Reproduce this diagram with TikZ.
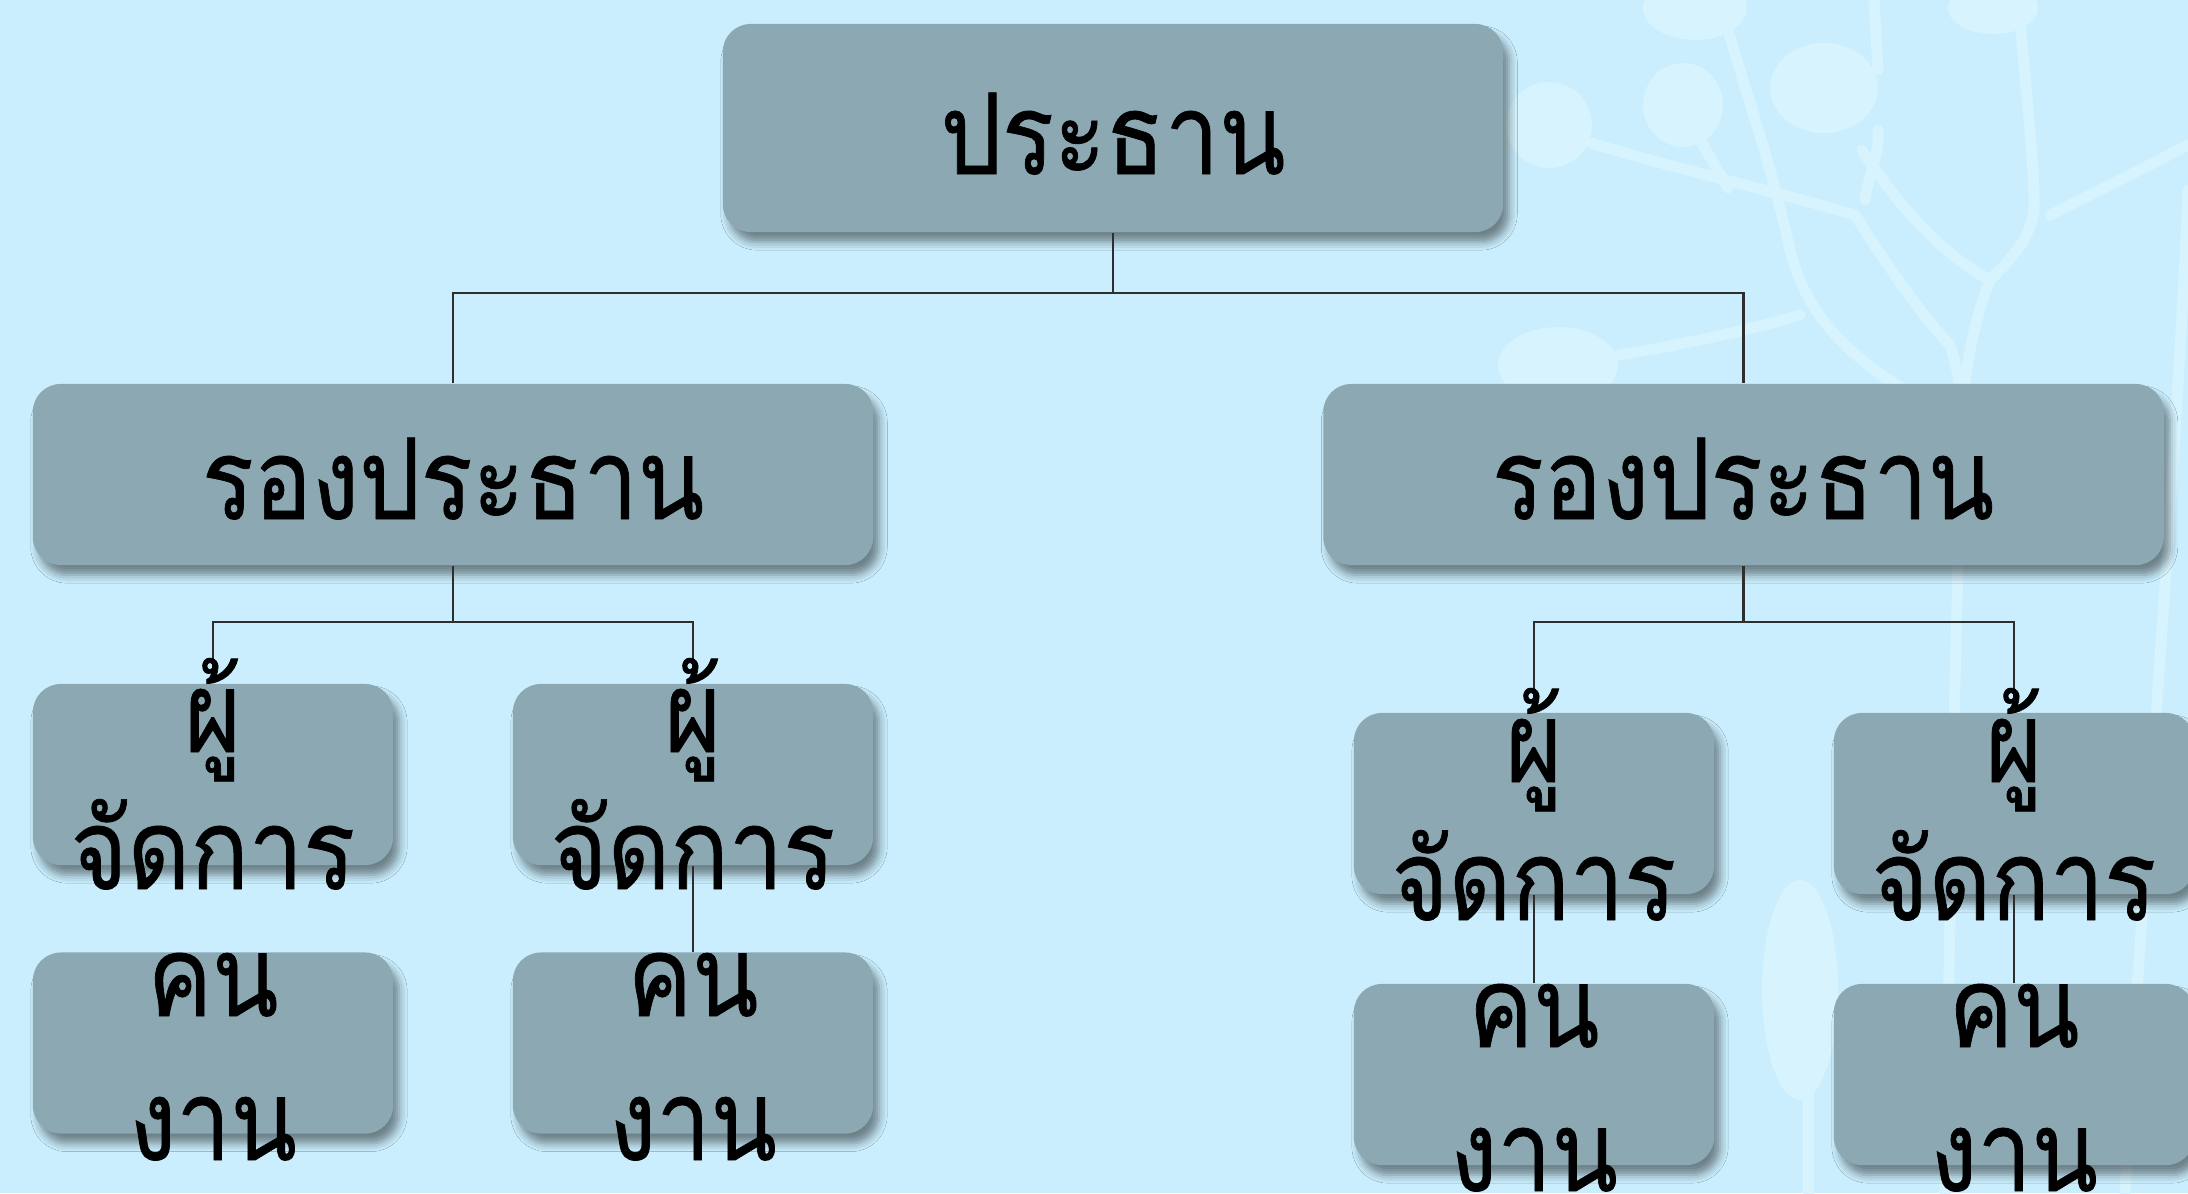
\documentclass[tikz,border=0pt]{standalone}
\usepackage{fontspec}
\newfontfamily\thaifont[Script=Thai,FakeStretch=0.86,FakeBold=0.6]{Loma}
\usetikzlibrary{shadows.blur}
\definecolor{bgblue}{HTML}{CAEEFD}
\definecolor{leafblue}{HTML}{D6F3FE}
\definecolor{boxgray}{HTML}{8BA8B3}
\definecolor{linegray}{HTML}{2E2E2E}

\begin{document}
\begin{tikzpicture}[x=0.01cm, y=-0.01cm,
  orgbox/.style={rectangle, rounded corners=0.28cm, fill=boxgray, draw=none, inner sep=0pt,
    blur shadow={shadow xshift=0.06cm, shadow yshift=-0.10cm,
                 shadow blur radius=0.08cm, shadow opacity=45}},
  bigbox/.style={orgbox, minimum width=8.4cm, minimum height=1.81cm},
  headbox/.style={orgbox, minimum width=7.8cm, minimum height=2.08cm},
  smallbox/.style={orgbox, minimum width=3.6cm, minimum height=1.81cm},
  conn/.style={draw=linegray, line width=0.7pt},
  lbl/.style={font={\thaifont\fontsize{32pt}{40pt}\selectfont}, text=black,
    inner sep=0pt, anchor=base},
  twig/.style={draw=leafblue, line width=0.11cm, line cap=round, line join=round},
  blob/.style={fill=leafblue, draw=none}]

% canvas
\fill[bgblue] (0,0) rectangle (2188,1193);
\useasboundingbox (0,0) rectangle (2188,1193);

% pale branches in the background
\path[blob] (1549,125) ellipse [x radius=0.43cm, y radius=0.43cm];
\path[blob] (1683,105) ellipse [x radius=0.40cm, y radius=0.42cm];
\path[blob] (1695,8) ellipse [x radius=0.52cm, y radius=0.32cm];
\path[blob] (1824,88) ellipse [x radius=0.54cm, y radius=0.45cm];
\path[blob] (1993,8) ellipse [x radius=0.45cm, y radius=0.26cm];
\path[blob] (1558,365) ellipse [x radius=0.60cm, y radius=0.38cm];
\path[blob] (1800,990) ellipse [x radius=0.38cm, y radius=1.10cm];
\draw[twig] (1591,143) .. controls (1680,170) and (1790,195) .. (1855,215)
            .. controls (1890,270) and (1925,320) .. (1950,345)
            .. controls (1958,370) and (1962,395) .. (1962,420);
\draw[twig] (1700,140) -- (1728,188);
\draw[twig] (1725,20) .. controls (1745,90) and (1770,160) .. (1790,250)
            .. controls (1805,310) and (1840,350) .. (1905,390);
\draw[twig] (1874,0) -- (1878,70);
\draw[twig] (1878,130) .. controls (1880,150) and (1870,170) .. (1865,200);
\draw[twig] (1862,150) .. controls (1900,210) and (1950,260) .. (1990,280);
\draw[twig] (2018,0) .. controls (2025,80) and (2035,170) .. (2034,210)
            .. controls (2030,240) and (2010,260) .. (1990,280)
            .. controls (1975,320) and (1965,360) .. (1962,420);
\draw[twig] (2050,215) .. controls (2100,190) and (2150,165) .. (2188,145);
\draw[twig] (1619,355) .. controls (1680,345) and (1750,330) .. (1800,315);
\draw[twig] (1962,420) .. controls (1955,650) and (1950,900) .. (1945,1193);
\draw[twig] (2188,190) .. controls (2175,500) and (2140,900) .. (2125,1193);
\draw[twig] (1808,1050) -- (1808,1193);

% boxes
\node[headbox] (top) at (1113,128) {};
\node[bigbox] (vpL) at (453,474.5) {};
\node[bigbox] (vpR) at (1743.5,474.5) {};
\node[smallbox] (mL1) at (213,774.5) {};
\node[smallbox] (mL2) at (693,774.5) {};
\node[smallbox] (wL1) at (213,1043) {};
\node[smallbox] (wL2) at (693,1043) {};
\node[smallbox] (mR1) at (1534,803.5) {};
\node[smallbox] (mR2) at (2014,803.5) {};
\node[smallbox] (wR1) at (1534,1074.5) {};
\node[smallbox] (wR2) at (2014,1074.5) {};

% bus levels
\coordinate (yTop) at (0,293);
\coordinate (yMid) at (0,622);

% connectors
\draw[conn] (top.south) -- (top.south |- yTop);
\draw[conn] (vpL.north) |- (vpR.north |- yTop) -- (vpR.north);
\draw[conn] (vpL.south) -- (vpL.south |- yMid);
\draw[conn] (mL1.north) |- (mL2.north |- yMid) -- (mL2.north);
\draw[conn] (vpR.south) -- (vpR.south |- yMid);
\draw[conn] (mR1.north) |- (mR2.north |- yMid) -- (mR2.north);
\draw[conn] (mL2.south) -- (wL2.north);
\draw[conn] (mR1.south) -- (wR1.north);
\draw[conn] (mR2.south) -- (wR2.north);

% labels
\node[lbl] (tTop) at (1113,174) {ประธาน};
\node[lbl] (tVpL) at (453,519) {รองประธาน};
\node[lbl] (tVpR) at (1743,519) {รองประธาน};

\node[lbl] (tmL1a) at (213,752) {ผู้};
\node[lbl] (tmL1b) at (213,889) {จัดการ};
\node[lbl] (tmL2a) at (693,752) {ผู้};
\node[lbl] (tmL2b) at (693,889) {จัดการ};
\node[lbl] (twL1a) at (213,1016) {คน};
\node[lbl] (twL1b) at (213,1160) {งาน};
\node[lbl] (twL2a) at (693,1016) {คน};
\node[lbl] (twL2b) at (693,1160) {งาน};

\node[lbl] (tmR1a) at (1534,782) {ผู้};
\node[lbl] (tmR1b) at (1534,920) {จัดการ};
\node[lbl] (tmR2a) at (2014,782) {ผู้};
\node[lbl] (tmR2b) at (2014,920) {จัดการ};
\node[lbl] (twR1a) at (1534,1047) {คน};
\node[lbl] (twR1b) at (1534,1191) {งาน};
\node[lbl] (twR2a) at (2014,1047) {คน};
\node[lbl] (twR2b) at (2014,1191) {งาน};
\end{tikzpicture}
\end{document}
